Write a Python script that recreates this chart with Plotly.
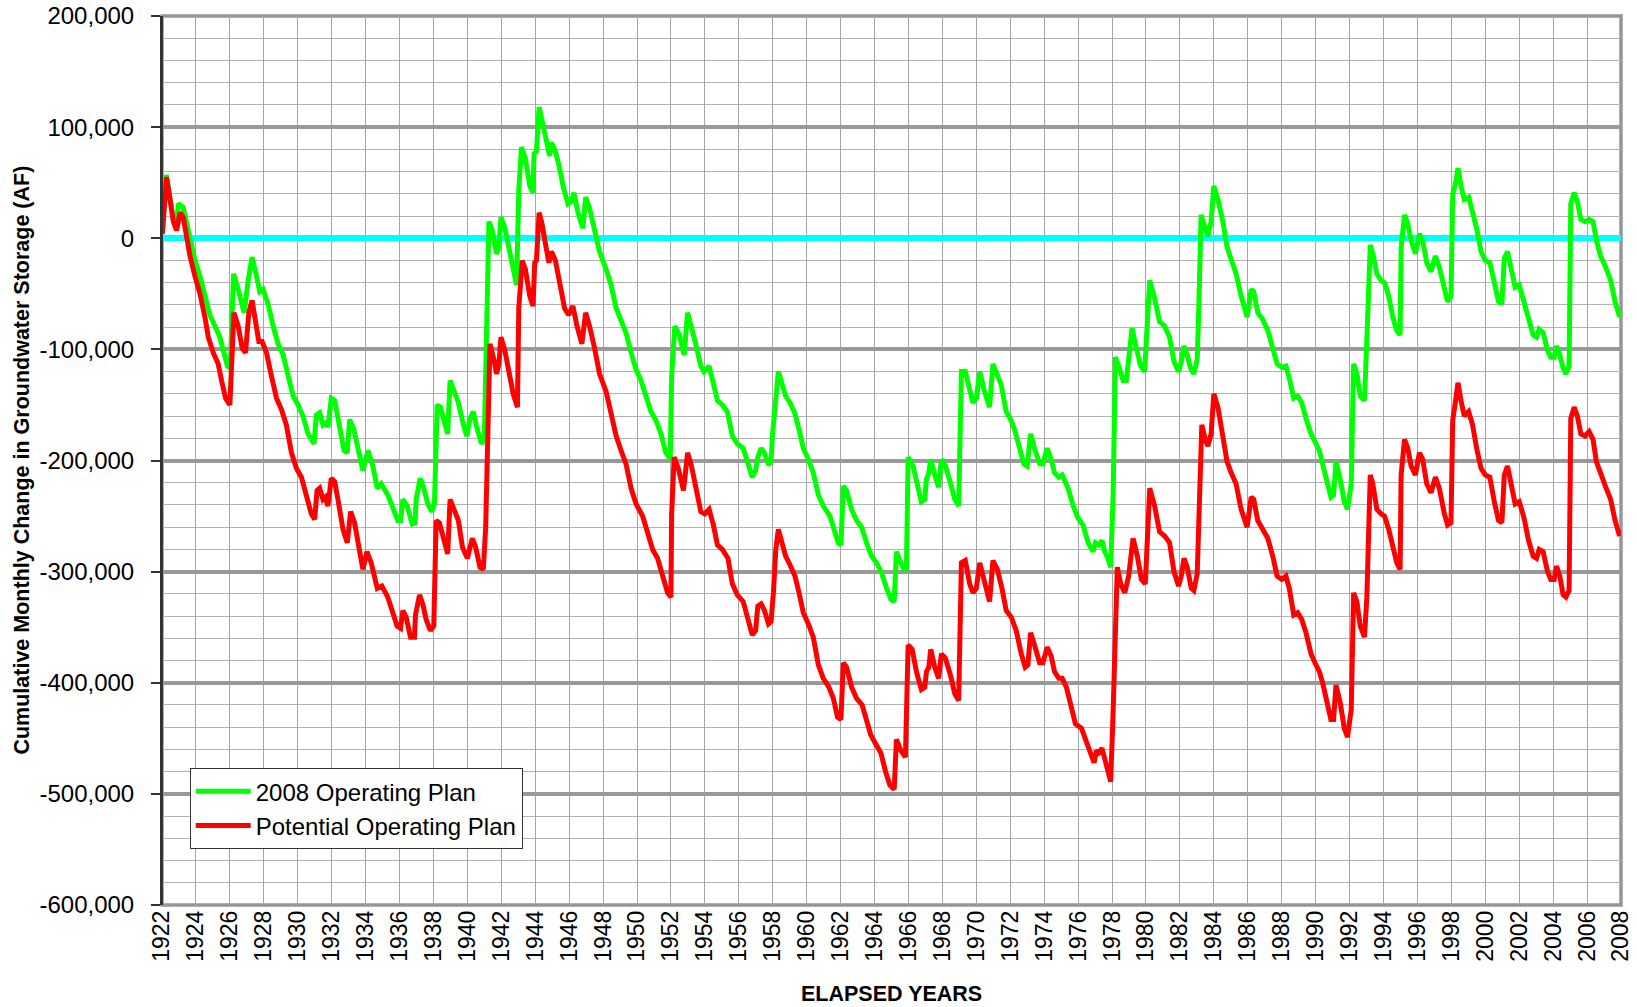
import plotly.graph_objects as go

# ---------------- data (values in thousands of acre-feet) ----------------
plan2008_years = [
    1922.02, 1922.25, 1922.47, 1922.67, 1922.86, 1922.96, 1923.25, 1923.45, 1923.65, 1923.94,
    1924.24, 1924.53, 1924.82, 1925.12, 1925.41, 1925.65, 1925.86, 1926.02, 1926.22, 1926.49,
    1926.84, 1927.08, 1927.31, 1927.57, 1927.76, 1927.96, 1928.25, 1928.55, 1928.84, 1929.14,
    1929.43, 1929.73, 1930.02, 1930.31, 1930.61, 1930.96, 1931.10, 1931.29, 1931.49, 1931.69,
    1931.78, 1931.98, 1932.18, 1932.47, 1932.73, 1932.92, 1933.06, 1933.31, 1933.59, 1933.84,
    1934.14, 1934.43, 1934.69, 1934.92, 1935.31, 1935.61, 1935.90, 1936.06, 1936.20, 1936.45,
    1936.75, 1936.92, 1936.98, 1937.22, 1937.43, 1937.67, 1937.90, 1938.06, 1938.22, 1938.41,
    1938.65, 1938.84, 1938.98, 1939.24,
    1939.47, 1939.77, 1939.96, 1940.16, 1940.35, 1940.55, 1940.84, 1941.00, 1941.14, 1941.27,
    1941.47, 1941.72, 1941.86, 1941.98, 1942.21, 1942.41, 1942.64, 1942.90, 1943.03, 1943.19,
    1943.42, 1943.68, 1943.87, 1943.93, 1944.07, 1944.23, 1944.40, 1944.66, 1944.85, 1944.95,
    1945.15, 1945.38, 1945.64, 1945.93, 1946.13, 1946.28, 1946.52, 1946.81, 1946.97, 1947.20,
    1947.50, 1947.79, 1948.18, 1948.47, 1948.77, 1949.06, 1949.35, 1949.65, 1949.94, 1950.23,
    1950.53, 1950.82, 1951.12, 1951.41, 1951.70, 1951.96, 1952.04, 1952.23, 1952.49, 1952.78,
    1952.98, 1953.21, 1953.46, 1953.76, 1953.95, 1954.25, 1954.50, 1954.74, 1955.03, 1955.32,
    1955.62, 1955.91, 1956.26, 1956.50, 1956.79, 1956.99,
    1957.12, 1957.31, 1957.51, 1957.75, 1957.90, 1957.98, 1958.18, 1958.33, 1958.53, 1958.76,
    1959.02, 1959.31, 1959.55, 1959.80, 1960.10, 1960.39, 1960.69, 1960.98, 1961.37, 1961.63,
    1961.86, 1962.02, 1962.16, 1962.35, 1962.65, 1962.94, 1963.24, 1963.53, 1963.82, 1964.12,
    1964.41, 1964.71, 1964.96, 1965.16, 1965.29, 1965.49, 1965.75, 1965.88, 1965.98, 1966.27,
    1966.53, 1966.76, 1966.96, 1967.06, 1967.20, 1967.31, 1967.55, 1967.78, 1967.94, 1968.18,
    1968.49, 1968.73, 1968.96, 1969.12, 1969.35, 1969.61, 1969.80, 1970.00, 1970.20, 1970.45,
    1970.78, 1970.98, 1971.18, 1971.47, 1971.76, 1972.02, 1972.25, 1972.55, 1972.80, 1973.00,
    1973.20, 1973.43, 1973.73, 1973.92, 1974.18, 1974.41, 1974.61,
    1974.86, 1975.06, 1975.41, 1975.71, 1976.00, 1976.29, 1976.59, 1976.88, 1977.02, 1977.22,
    1977.41, 1977.57, 1977.76, 1977.92, 1978.06, 1978.20, 1978.39, 1978.65, 1978.84, 1978.98,
    1979.18, 1979.43, 1979.69, 1979.92, 1980.08, 1980.22, 1980.51, 1980.80, 1981.10, 1981.39,
    1981.65, 1981.92, 1982.08, 1982.24, 1982.43, 1982.63, 1982.82, 1983.02, 1983.10, 1983.25,
    1983.45, 1983.65, 1983.84, 1984.00, 1984.24, 1984.53, 1984.78, 1985.02, 1985.31, 1985.61,
    1985.96, 1986.20, 1986.35, 1986.59, 1986.88, 1987.18, 1987.47, 1987.73, 1988.00, 1988.25,
    1988.45, 1988.71, 1988.94, 1989.18, 1989.43, 1989.73, 1989.96, 1990.22, 1990.41, 1990.67,
    1990.90, 1991.06, 1991.20, 1991.45, 1991.69, 1991.88,
    1992.10, 1992.24, 1992.43, 1992.63, 1992.88, 1993.02, 1993.22, 1993.37, 1993.61, 1993.86,
    1994.06, 1994.31, 1994.55, 1994.78, 1994.98, 1995.04, 1995.24, 1995.43, 1995.63, 1995.88,
    1996.12, 1996.31, 1996.55, 1996.80, 1997.06, 1997.29, 1997.59, 1997.78, 1997.98, 1998.08,
    1998.27, 1998.39, 1998.57, 1998.76, 1999.02, 1999.25, 1999.49, 1999.75, 2000.00, 2000.27,
    2000.53, 2000.78, 2000.98, 2001.12, 2001.31, 2001.51, 2001.76, 2002.00, 2002.29, 2002.55,
    2002.82, 2003.02, 2003.18, 2003.41, 2003.67, 2003.86, 2004.06, 2004.20, 2004.39, 2004.59,
    2004.75, 2004.94, 2005.04, 2005.24, 2005.43, 2005.63, 2005.88, 2006.12, 2006.35, 2006.55,
    2006.80, 2007.10, 2007.39, 2007.65, 2007.92,
]
plan2008_kaf = [
    6, 57, 37, 17, 10, 31, 28, 15, -2, -20,
    -34, -50, -69, -79, -89, -103, -115, -117, -32, -46,
    -67, -38, -17, -34, -48, -46, -59, -79, -95, -105,
    -124, -142, -150, -160, -176, -185, -159, -157, -168, -166,
    -170, -144, -146, -168, -191, -193, -163, -172, -193, -209,
    -191, -205, -225, -221, -231, -244, -254, -254, -235, -241,
    -257, -256, -235, -216, -225, -239, -246, -239, -150, -152,
    -168, -176, -128, -138,
    -148, -168, -178, -162, -156, -170, -185, -180, -79, 15,
    7, -14, -8, 19, 9, -6, -26, -42, 43, 82,
    72, 47, 41, 76, 78, 118, 106, 84, 74, 86,
    80, 67, 47, 31, 33, 41, 23, 9, 37, 27,
    9, -12, -28, -42, -63, -75, -85, -103, -118, -128,
    -142, -156, -164, -176, -193, -199, -124, -79, -87, -105,
    -67, -79, -95, -115, -120, -115, -132, -146, -150, -156,
    -178, -185, -189, -201, -215, -209,
    -197, -189, -193, -204, -201, -178, -136, -120, -130, -142,
    -148, -158, -172, -189, -199, -211, -231, -241, -250, -264,
    -274, -276, -223, -227, -244, -254, -260, -274, -286, -292,
    -301, -315, -325, -327, -282, -290, -298, -298, -197, -205,
    -221, -237, -235, -217, -211, -199, -213, -224, -199, -205,
    -221, -235, -241, -120, -120, -138, -148, -144, -120, -136,
    -152, -113, -120, -132, -156, -163, -172, -191, -203, -205,
    -176, -189, -203, -203, -189, -199, -211,
    -215, -213, -225, -241, -252, -258, -274, -282, -274, -276,
    -272, -282, -288, -296, -233, -107, -115, -128, -128, -107,
    -81, -99, -115, -120, -79, -38, -54, -75, -79, -89,
    -111, -120, -111, -97, -105, -117, -122, -109, -71, 21,
    11, 2, 15, 47, 35, 15, -8, -20, -32, -52,
    -71, -46, -48, -67, -73, -83, -99, -113, -116, -115,
    -126, -144, -142, -148, -162, -176, -183, -191, -203, -221,
    -233, -231, -201, -217, -237, -244,
    -221, -113, -122, -142, -146, -91, -6, -14, -32, -38,
    -40, -52, -71, -83, -87, -8, 21, 13, -2, -14,
    4, -2, -22, -30, -16, -26, -46, -57, -52, 39,
    51, 63, 47, 35, 37, 25, 9, -12, -20, -22,
    -42, -57, -59, -18, -12, -26, -44, -42, -57, -73,
    -87, -89, -82, -85, -101, -107, -107, -97, -105, -117,
    -122, -115, 31, 41, 33, 17, 15, 17, 15, -2,
    -16, -26, -38, -57, -71,
]

potential_years = [
    1922.02, 1922.27, 1922.47, 1922.67, 1922.86, 1923.06, 1923.25, 1923.45, 1923.65, 1923.94,
    1924.24, 1924.53, 1924.73, 1925.02, 1925.31, 1925.51, 1925.75, 1926.00, 1926.24, 1926.49,
    1926.73, 1926.92, 1927.12, 1927.31, 1927.57, 1927.71, 1927.90, 1928.16, 1928.45, 1928.75,
    1929.04, 1929.33, 1929.63, 1929.92, 1930.22, 1930.51, 1930.80, 1931.00, 1931.14, 1931.29,
    1931.49, 1931.63, 1931.78, 1931.98, 1932.18, 1932.37, 1932.67, 1932.92, 1933.12, 1933.35,
    1933.59, 1933.84, 1934.08, 1934.33, 1934.69, 1934.96, 1935.31, 1935.61, 1935.86, 1936.06,
    1936.20, 1936.39, 1936.65, 1936.88, 1936.94, 1937.18, 1937.37, 1937.57, 1937.82, 1938.02,
    1938.16, 1938.35, 1938.65, 1938.84, 1938.98, 1939.24,
    1939.47, 1939.71, 1940.00, 1940.29, 1940.49, 1940.74, 1940.94, 1941.08, 1941.23, 1941.33,
    1941.59, 1941.72, 1941.86, 1941.98, 1942.21, 1942.47, 1942.70, 1942.95, 1943.03, 1943.23,
    1943.42, 1943.68, 1943.87, 1943.97, 1944.07, 1944.23, 1944.40, 1944.66, 1944.81, 1944.95,
    1945.19, 1945.44, 1945.73, 1945.97, 1946.22, 1946.46, 1946.75, 1946.97, 1947.20, 1947.50,
    1947.79, 1948.18, 1948.47, 1948.77, 1949.06, 1949.35, 1949.65, 1949.94, 1950.33, 1950.63,
    1950.92, 1951.21, 1951.51, 1951.80, 1952.00, 1952.04, 1952.19, 1952.43, 1952.74, 1952.98,
    1953.21, 1953.46, 1953.76, 1953.99, 1954.25, 1954.50, 1954.74, 1955.03, 1955.36, 1955.62,
    1955.91, 1956.26, 1956.50, 1956.79, 1956.99,
    1957.12, 1957.31, 1957.51, 1957.75, 1957.90, 1958.04, 1958.18, 1958.33, 1958.53, 1958.76,
    1959.02, 1959.31, 1959.55, 1959.80, 1960.10, 1960.39, 1960.69, 1960.98, 1961.31, 1961.57,
    1961.82, 1962.02, 1962.16, 1962.35, 1962.65, 1962.94, 1963.27, 1963.53, 1963.78, 1964.06,
    1964.37, 1964.65, 1964.90, 1965.16, 1965.29, 1965.55, 1965.82, 1965.98, 1966.22, 1966.47,
    1966.76, 1966.96, 1967.06, 1967.20, 1967.31, 1967.55, 1967.78, 1967.94, 1968.18, 1968.49,
    1968.73, 1968.96, 1969.12, 1969.35, 1969.61, 1969.80, 1970.00, 1970.20, 1970.49, 1970.78,
    1970.98, 1971.24, 1971.51, 1971.76, 1972.06, 1972.35, 1972.65, 1972.88, 1973.04, 1973.20,
    1973.43, 1973.73, 1973.92, 1974.18, 1974.41, 1974.61,
    1974.86, 1975.06, 1975.31, 1975.61, 1975.84, 1976.20, 1976.49, 1976.75, 1976.94, 1977.08,
    1977.22, 1977.41, 1977.57, 1977.73, 1977.92, 1978.06, 1978.16, 1978.31, 1978.51, 1978.75,
    1978.98, 1979.24, 1979.49, 1979.73, 1979.96, 1980.08, 1980.22, 1980.51, 1980.80, 1981.10,
    1981.39, 1981.65, 1981.92, 1982.08, 1982.24, 1982.43, 1982.67, 1982.82, 1983.02, 1983.16,
    1983.29, 1983.49, 1983.65, 1983.84, 1984.00, 1984.24, 1984.53, 1984.78, 1985.02, 1985.31,
    1985.61, 1985.96, 1986.20, 1986.35, 1986.59, 1986.88, 1987.18, 1987.47, 1987.73, 1988.00,
    1988.25, 1988.45, 1988.71, 1988.94, 1989.18, 1989.43, 1989.73, 1989.96, 1990.22, 1990.41,
    1990.67, 1990.90, 1991.06, 1991.20, 1991.45, 1991.69, 1991.88,
    1992.10, 1992.24, 1992.43, 1992.63, 1992.88, 1993.02, 1993.22, 1993.37, 1993.61, 1993.86,
    1994.06, 1994.31, 1994.55, 1994.78, 1994.98, 1995.04, 1995.24, 1995.43, 1995.63, 1995.88,
    1996.12, 1996.31, 1996.55, 1996.80, 1997.06, 1997.29, 1997.59, 1997.78, 1997.98, 1998.08,
    1998.27, 1998.39, 1998.57, 1998.76, 1999.02, 1999.25, 1999.49, 1999.75, 2000.00, 2000.27,
    2000.53, 2000.78, 2000.98, 2001.12, 2001.31, 2001.51, 2001.76, 2002.00, 2002.29, 2002.55,
    2002.82, 2003.02, 2003.18, 2003.41, 2003.67, 2003.86, 2004.06, 2004.20, 2004.39, 2004.59,
    2004.75, 2004.94, 2005.04, 2005.24, 2005.43, 2005.63, 2005.88, 2006.12, 2006.35, 2006.55,
    2006.80, 2007.10, 2007.39, 2007.65, 2007.92,
]
potential_kaf = [
    4, 55, 35, 15, 7, 23, 19, 2, -16, -34,
    -50, -71, -89, -103, -113, -128, -144, -150, -67, -79,
    -99, -103, -67, -56, -83, -93, -93, -103, -124, -144,
    -154, -168, -193, -207, -215, -231, -248, -253, -227, -225,
    -235, -233, -241, -216, -219, -235, -262, -274, -246, -256,
    -278, -298, -282, -292, -315, -313, -323, -339, -349, -351,
    -335, -341, -359, -359, -339, -321, -329, -343, -353, -349,
    -254, -256, -274, -284, -235, -246,
    -254, -278, -288, -270, -278, -296, -298, -260, -120, -95,
    -111, -122, -113, -89, -101, -122, -140, -152, -63, -20,
    -28, -52, -61, -22, -20, 23, 13, -10, -22, -12,
    -20, -40, -63, -69, -61, -79, -95, -67, -79, -99,
    -122, -138, -156, -178, -191, -203, -225, -239, -250, -266,
    -280, -288, -302, -319, -323, -248, -197, -207, -227, -193,
    -205, -224, -246, -248, -244, -258, -276, -280, -288, -311,
    -321, -327, -339, -357, -353,
    -331, -329, -335, -347, -345, -319, -280, -262, -274, -286,
    -294, -304, -319, -337, -347, -359, -384, -396, -404, -414,
    -431, -433, -382, -386, -404, -414, -420, -433, -447, -455,
    -463, -480, -492, -496, -451, -461, -467, -366, -370, -390,
    -406, -404, -390, -386, -370, -386, -396, -374, -378, -394,
    -410, -416, -292, -290, -311, -319, -315, -292, -311, -327,
    -290, -298, -315, -335, -341, -353, -374, -386, -384, -355,
    -366, -382, -382, -368, -376, -390,
    -396, -396, -404, -424, -437, -441, -453, -467, -472, -461,
    -463, -459, -470, -477, -489, -428, -355, -296, -311, -319,
    -304, -270, -286, -307, -311, -270, -225, -241, -264, -268,
    -274, -300, -313, -304, -288, -296, -315, -317, -302, -233,
    -168, -181, -187, -176, -140, -152, -181, -201, -211, -221,
    -244, -260, -233, -235, -254, -262, -270, -286, -304, -307,
    -304, -315, -339, -337, -343, -355, -374, -382, -390, -400,
    -420, -433, -433, -402, -418, -441, -449,
    -424, -319, -327, -349, -359, -323, -213, -221, -244, -248,
    -250, -262, -278, -292, -298, -213, -181, -189, -205, -213,
    -193, -199, -221, -229, -215, -225, -248, -258, -256, -164,
    -144, -130, -146, -160, -156, -168, -189, -207, -213, -215,
    -237, -254, -256, -213, -205, -221, -239, -237, -252, -272,
    -286, -288, -280, -282, -300, -307, -307, -295, -304, -321,
    -323, -317, -162, -152, -160, -176, -178, -174, -181, -201,
    -213, -224, -235, -254, -268,
]

series_names = ["2008 Operating Plan", "Potential Operating Plan"]
series_colors = ["#00FF00", "#FF0000"]

y_tick_values = [200000, 100000, 0, -100000, -200000, -300000, -400000, -500000, -600000]
y_tick_labels = ["200,000", "100,000", "0", "-100,000", "-200,000", "-300,000",
                 "-400,000", "-500,000", "-600,000"]
x_tick_years = list(range(1922, 2009, 2))
x_tick_labels = [str(y) for y in x_tick_years]

y_title = "Cumulative Monthly Change in Groundwater Storage (AF)"
x_title = "ELAPSED YEARS"

# ---------------- figure ----------------
FONT = "Liberation Sans, Arial, sans-serif"
fig = go.Figure()

for name, color, xs, ks in [
    (series_names[0], series_colors[0], plan2008_years, plan2008_kaf),
    (series_names[1], series_colors[1], potential_years, potential_kaf),
]:
    fig.add_trace(go.Scatter(
        x=xs, y=[k * 1000 for k in ks], mode="lines", name=name,
        line=dict(color=color, width=5),
    ))

fig.update_layout(
    width=1637, height=1007,
    margin=dict(l=162, r=16, t=16, b=102, autoexpand=False),
    paper_bgcolor="white", plot_bgcolor="white",
    font=dict(family=FONT, color="black"),
    showlegend=True,
    legend=dict(
        x=0.019, y=0.154, xanchor="left", yanchor="top",
        bgcolor="white", bordercolor="#333333", borderwidth=1,
        font=dict(size=24, family=FONT, color="black"),
        itemwidth=55, tracegroupgap=0,
    ),
)

fig.update_xaxes(
    range=[1922, 2008], tickmode="array", tickvals=x_tick_years, ticktext=x_tick_labels,
    tickangle=-90, tickfont=dict(size=23, family=FONT, color="black"),
    showgrid=True, gridcolor="#a6a6a6", gridwidth=1.3,
    zeroline=False, showline=False, ticks="", automargin=False,
)
fig.update_yaxes(
    range=[-600000, 200000], tickmode="array", tickvals=y_tick_values, ticktext=y_tick_labels,
    tickfont=dict(size=24, family=FONT, color="black"),
    showgrid=True, gridcolor="#999999", gridwidth=3.5,
    minor=dict(tickmode="linear", tick0=0, dtick=20000, showgrid=True,
               gridcolor="#b3b3b3", gridwidth=1, ticks=""),
    zeroline=True, zerolinecolor="#00FFFF", zerolinewidth=6,
    showline=True, linecolor="#333333", linewidth=2,
    ticks="outside", ticklen=9, tickcolor="#333333", tickwidth=1.5,
    ticklabelstandoff=12, automargin=False,
)

# plot-area frame (top / right / bottom), drawn over the grid
fig.add_shape(type="rect", xref="paper", yref="paper", x0=0, x1=1, y0=0, y1=1,
              line=dict(color="#969696", width=3.5), layer="between")
fig.add_shape(type="line", xref="paper", yref="paper", x0=0, x1=0, y0=0, y1=1,
              line=dict(color="#333333", width=2), layer="above")

fig.add_annotation(text="<b>" + y_title + "</b>", xref="paper", yref="paper",
                   x=-0.0966, y=0.5, textangle=-90, showarrow=False,
                   font=dict(size=21.5, family=FONT, color="black"),
                   xanchor="center", yanchor="middle")
fig.add_annotation(text="<b>" + x_title + "</b>", xref="paper", yref="paper",
                   x=0.5, y=-0.100, showarrow=False,
                   font=dict(size=21.5, family=FONT, color="black"),
                   xanchor="center", yanchor="middle")

# remove the browser's default 8px page margin so the figure sits at the window's corner
fig.write_html("out.html",
               config={"displayModeBar": False},
               post_script="document.body.style.margin='0px';document.body.style.overflow='hidden';")
